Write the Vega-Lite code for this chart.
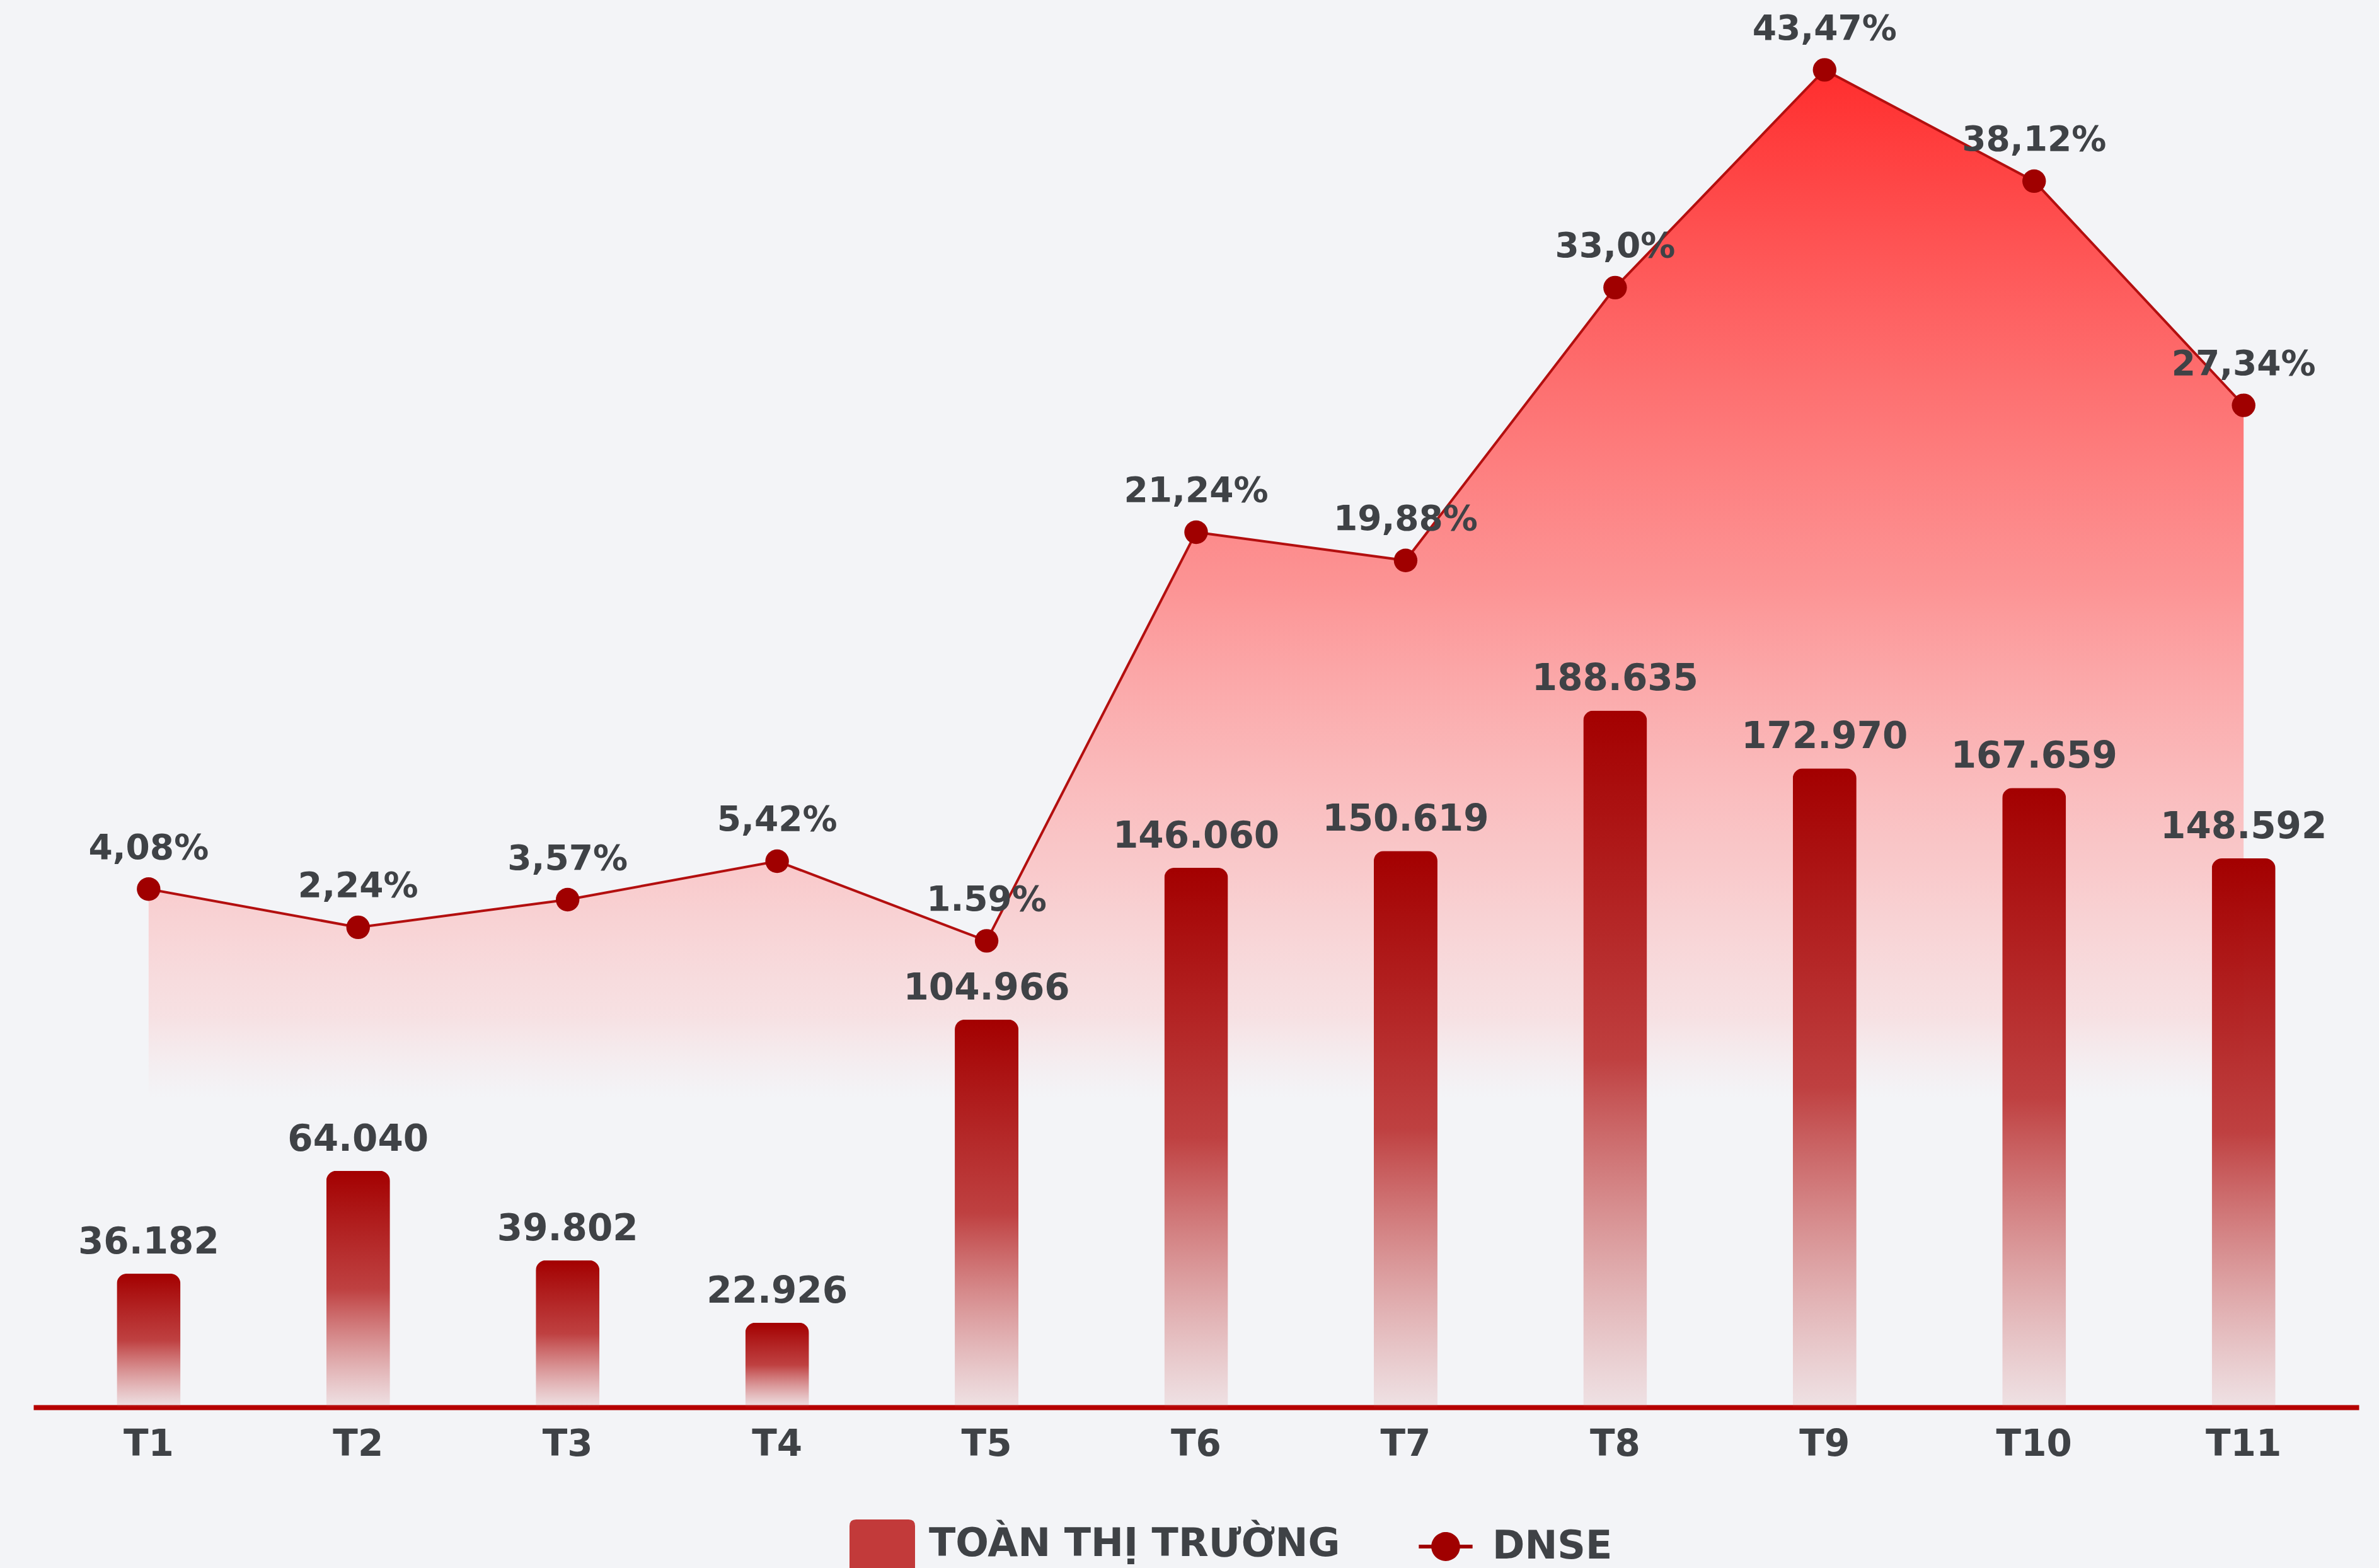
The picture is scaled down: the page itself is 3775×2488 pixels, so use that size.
{
  "$schema": "https://vega.github.io/schema/vega-lite/v6.json",
  "autosize": "none",
  "width": 3690,
  "height": 2233,
  "padding": {"left": 53, "top": 0, "right": 32, "bottom": 255},
  "background": "#f3f4f7",
  "config": {"view": {"stroke": null}, "font": "DejaVu Sans"},
  "datasets": {
    "monthly": [
      {"month": "T1", "volume": 36182, "volume_label": "36.182", "pct": 4.08, "pct_label": "4,08%"},
      {"month": "T2", "volume": 64040, "volume_label": "64.040", "pct": 2.24, "pct_label": "2,24%"},
      {"month": "T3", "volume": 39802, "volume_label": "39.802", "pct": 3.57, "pct_label": "3,57%"},
      {"month": "T4", "volume": 22926, "volume_label": "22.926", "pct": 5.42, "pct_label": "5,42%"},
      {"month": "T5", "volume": 104966, "volume_label": "104.966", "pct": 1.59, "pct_label": "1.59%"},
      {"month": "T6", "volume": 146060, "volume_label": "146.060", "pct": 21.24, "pct_label": "21,24%"},
      {"month": "T7", "volume": 150619, "volume_label": "150.619", "pct": 19.88, "pct_label": "19,88%"},
      {"month": "T8", "volume": 188635, "volume_label": "188.635", "pct": 33.0, "pct_label": "33,0%"},
      {"month": "T9", "volume": 172970, "volume_label": "172.970", "pct": 43.47, "pct_label": "43,47%"},
      {"month": "T10", "volume": 167659, "volume_label": "167.659", "pct": 38.12, "pct_label": "38,12%"},
      {"month": "T11", "volume": 148592, "volume_label": "148.592", "pct": 27.34, "pct_label": "27,34%"}
    ],
    "legend": [
      {"series": "TOÀN THỊ TRƯỜNG"},
      {"series": "DNSE"}
    ]
  },
  "resolve": {"scale": {"y": "independent"}},
  "layer": [
    {
      "data": {"name": "monthly"},
      "mark": {
        "type": "area",
        "color": {
          "gradient": "linear", "x1": 0, "y1": 0, "x2": 0, "y2": 1,
          "stops": [
            {"offset": 0, "color": "rgba(255,45,45,1)"},
            {"offset": 0.5, "color": "rgba(255,120,120,0.78)"},
            {"offset": 0.78, "color": "rgba(255,160,160,0.5)"},
            {"offset": 0.92, "color": "rgba(255,180,180,0.3)"},
            {"offset": 1, "color": "rgba(255,200,200,0)"}
          ]
        }
      },
      "encoding": {
        "x": {"field": "month", "type": "ordinal", "sort": null,
              "scale": {"paddingInner": 0, "paddingOuter": 0.05},
              "axis": {"title": null, "domainColor": "#b50000", "domainWidth": 8, "ticks": false,
                       "labelFont": "DejaVu Sans", "labelFontWeight": "bold", "labelFontSize": 58,
                       "labelColor": "#3f4246", "labelPadding": 30, "labelAngle": 0, "grid": false}},
        "y": {"field": "pct", "type": "quantitative", "scale": {"domain": [-20.84, 46.83]}, "axis": null},
        "y2": {"datum": -6}
      }
    },
    {
      "data": {"name": "monthly"},
      "mark": {
        "type": "bar",
        "width": {"band": 0.304},
        "cornerRadiusTopLeft": 16,
        "cornerRadiusTopRight": 16,
        "color": {
          "gradient": "linear", "x1": 0, "y1": 0, "x2": 0, "y2": 1,
          "stops": [
            {"offset": 0, "color": "rgba(163,0,0,1)"},
            {"offset": 0.5, "color": "rgba(185,45,45,0.9)"},
            {"offset": 1, "color": "rgba(205,90,90,0.12)"}
          ]
        }
      },
      "encoding": {
        "x": {"field": "month", "type": "ordinal", "sort": null},
        "y": {"field": "volume", "type": "quantitative", "scale": {"domain": [0, 381000]}, "axis": null}
      }
    },
    {
      "data": {"name": "monthly"},
      "mark": {"type": "text", "font": "DejaVu Sans", "fontWeight": "bold", "fontSize": 58,
               "color": "#3f4246", "align": "center", "baseline": "alphabetic", "dy": -32},
      "encoding": {
        "x": {"field": "month", "type": "ordinal", "sort": null},
        "y": {"field": "volume", "type": "quantitative", "scale": {"domain": [0, 381000]}, "axis": null},
        "text": {"field": "volume_label"}
      }
    },
    {
      "data": {"name": "monthly"},
      "mark": {"type": "line", "color": "#b30f0f", "strokeWidth": 4},
      "encoding": {
        "x": {"field": "month", "type": "ordinal", "sort": null},
        "y": {"field": "pct", "type": "quantitative", "scale": {"domain": [-20.84, 46.83]}, "axis": null}
      }
    },
    {
      "data": {"name": "monthly"},
      "mark": {"type": "point", "filled": true, "color": "#a00000", "opacity": 1, "size": 1400},
      "encoding": {
        "x": {"field": "month", "type": "ordinal", "sort": null},
        "y": {"field": "pct", "type": "quantitative", "scale": {"domain": [-20.84, 46.83]}, "axis": null}
      }
    },
    {
      "data": {"name": "monthly"},
      "mark": {"type": "text", "font": "DejaVu Sans", "fontWeight": "bold", "fontSize": 55,
               "color": "#3f4246", "align": "center", "baseline": "alphabetic", "dy": -48},
      "encoding": {
        "x": {"field": "month", "type": "ordinal", "sort": null},
        "y": {"field": "pct", "type": "quantitative", "scale": {"domain": [-20.84, 46.83]}, "axis": null},
        "text": {"field": "pct_label"}
      }
    },
    {
      "data": {"name": "legend"},
      "mark": {"type": "point", "filled": true, "opacity": 0},
      "encoding": {
        "color": {"field": "series", "type": "nominal",
                  "scale": {"domain": ["TOÀN THỊ TRƯỜNG", "DNSE"], "range": ["#c23a3a", "#a00000"]},
                  "legend": {"title": null, "orient": "none", "legendX": 1295, "legendY": 2398,
                             "direction": "horizontal", "padding": 0, "columnPadding": 115,
                             "labelOffset": 22, "labelFont": "DejaVu Sans", "labelFontWeight": "bold",
                             "labelFontSize": 62, "labelColor": "#3f4246", "labelLimit": 2000,
                             "symbolSize": 10816, "symbolStrokeWidth": 0, "symbolOpacity": 1}},
        "shape": {"field": "series", "type": "nominal",
                  "scale": {"domain": ["TOÀN THỊ TRƯỜNG", "DNSE"],
                            "range": ["M-1,0.75V-0.55Q-1,-0.75,-0.8,-0.75H0.8Q1,-0.75,1,-0.55V0.75Z",
                                      "M-0.82,-0.06H0.82V0.06H-0.82Z M0.44,0A0.44,0.44,0,1,1,-0.44,0A0.44,0.44,0,1,1,0.44,0Z"]},
                  "legend": {"title": null, "orient": "none", "legendX": 1295, "legendY": 2398,
                             "direction": "horizontal", "padding": 0, "columnPadding": 115,
                             "labelOffset": 22, "labelFont": "DejaVu Sans", "labelFontWeight": "bold",
                             "labelFontSize": 62, "labelColor": "#3f4246", "labelLimit": 2000,
                             "symbolSize": 10816, "symbolStrokeWidth": 0, "symbolOpacity": 1}}
      }
    }
  ]
}
